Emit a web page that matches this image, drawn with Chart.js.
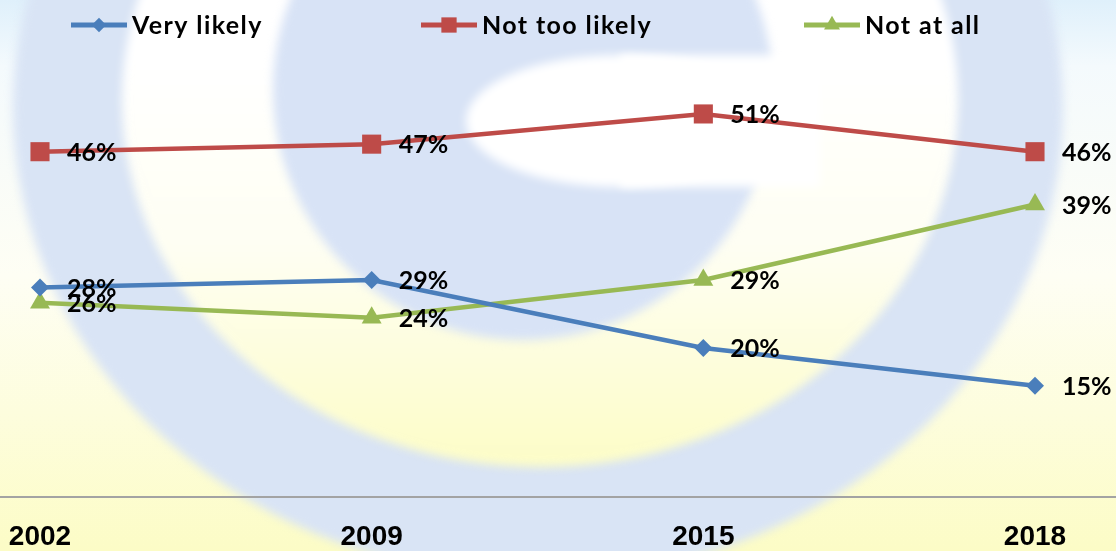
<!DOCTYPE html>
<html>
<head>
<meta charset="utf-8">
<script src="https://cdn.jsdelivr.net/npm/chart.js"></script>
<style>
    body { margin: 0; background: #fff; }
    #wrap { width: 1116px; height: 551px; }
</style>
</head>
<body>
<div id="wrap"><canvas id="trendChart" width="1116" height="551"></canvas></div>
<script>
const years = ['2002', '2009', '2015', '2018'];
const veryLikely = [28, 29, 20, 15];
const notTooLikely = [46, 47, 51, 46];
const notAtAll = [26, 24, 29, 39];
const seriesNames = ['Very likely', 'Not too likely', 'Not at all'];

const FONT = "Lato, 'Liberation Sans', sans-serif";
const legendStarts = [71, 421, 804];

// faint "G" watermark behind the plot
const watermark = {
    id: 'watermark',
    beforeDraw(chart) {
        const ctx = chart.ctx;
        const w = chart.width, h = chart.height;
        ctx.save();
        let g = ctx.createLinearGradient(0, 0, 0, h);
        g.addColorStop(0, '#dff0fb');
        g.addColorStop(0.12, '#f4fafd');
        g.addColorStop(0.5, '#fefef4');
        g.addColorStop(1, '#fcfcc6');
        ctx.fillStyle = g;
        ctx.fillRect(0, 0, w, h);

        ctx.filter = 'blur(5px)';
        // outer ring
        ctx.fillStyle = '#d9e4f5';
        ctx.beginPath();
        ctx.ellipse(538, 108, 525, 470, 0, 0, Math.PI * 2);
        ctx.fill();
        g = ctx.createLinearGradient(0, 60, 0, 480);
        g.addColorStop(0, '#ffffff');
        g.addColorStop(0.45, '#fefef2');
        g.addColorStop(1, '#fcfcc4');
        ctx.fillStyle = g;
        ctx.beginPath();
        ctx.ellipse(540, 100, 418, 367, 0, 0, Math.PI * 2);
        ctx.fill();

        // inner G
        ctx.fillStyle = '#d8e3f6';
        ctx.beginPath();
        ctx.arc(523, 90, 250, 0, Math.PI * 2);
        ctx.fill();
        ctx.fillStyle = '#ffffff';
        ctx.beginPath();
        ctx.ellipse(620, 121, 154, 66, 0, 0, Math.PI * 2);
        ctx.fill();
        ctx.fillRect(620, 55, 200, 132);
        ctx.restore();
    }
};

// full-width baseline under the plot
const baseline = {
    id: 'baseline',
    beforeDatasetsDraw(chart) {
        const ctx = chart.ctx;
        const y = chart.scales.y.getPixelForValue(0) - 2;
        ctx.save();
        ctx.strokeStyle = '#a3a3a3';
        ctx.lineWidth = 2;
        ctx.beginPath();
        ctx.moveTo(0, y);
        ctx.lineTo(chart.width, y);
        ctx.stroke();
        ctx.restore();
    }
};

// value labels to the right of each marker
const valueLabels = {
    id: 'valueLabels',
    afterDatasetsDraw(chart) {
        const ctx = chart.ctx;
        ctx.save();
        ctx.font = 'bold 25px ' + FONT;
        ctx.fillStyle = '#000';
        ctx.textAlign = 'left';
        ctx.textBaseline = 'middle';
        chart.data.datasets.forEach((ds, i) => {
            chart.getDatasetMeta(i).data.forEach((pt, j) => {
                ctx.fillText(ds.data[j] + '%', pt.x + 27, pt.y + 1);
            });
        });
        ctx.restore();
    }
};

// legend row: line with marker, then name
const lineLegend = {
    id: 'lineLegend',
    afterDraw(chart) {
        const ctx = chart.ctx;
        const y = 25;
        ctx.save();
        chart.data.datasets.forEach((ds, i) => {
            const x = legendStarts[i];
            ctx.strokeStyle = ds.borderColor;
            ctx.lineWidth = 5;
            ctx.beginPath();
            ctx.moveTo(x, y);
            ctx.lineTo(x + 56, y);
            ctx.stroke();
            ctx.fillStyle = ds.pointBackgroundColor;
            Chart.helpers.drawPoint(ctx, {
                pointStyle: ds.pointStyle,
                radius: ds.pointRadius * 0.8,
                rotation: 0,
                borderWidth: 0
            }, x + 28, y);
            ctx.fillStyle = '#000';
            ctx.font = 'bold 25px ' + FONT;
            ctx.letterSpacing = '1.4px';
            ctx.textBaseline = 'middle';
            ctx.fillText(ds.label, x + 61, y + 1);
            ctx.letterSpacing = '0px';
        });
        ctx.restore();
    }
};

function makeSeries(label, data, color, style, radius) {
    return {
        label: label,
        data: data,
        borderColor: color,
        backgroundColor: color,
        pointBackgroundColor: color,
        pointBorderColor: color,
        pointBorderWidth: 0,
        pointStyle: style,
        pointRadius: radius,
        pointHoverRadius: radius,
        borderWidth: 4.5,
        tension: 0,
        clip: false
    };
}

new Chart(document.getElementById('trendChart'), {
    type: 'line',
    data: {
        labels: years,
        datasets: [
            makeSeries(seriesNames[0], veryLikely, '#4a7ebb', 'rectRot', 9),
            makeSeries(seriesNames[1], notTooLikely, '#be4b48', 'rect', 13.5),
            makeSeries(seriesNames[2], notAtAll, '#98b954', 'triangle', 11.5)
        ]
    },
    options: {
        responsive: false,
        animation: false,
        layout: { padding: { left: 40, right: 81, top: 46, bottom: 0 } },
        scales: {
            x: {
                offset: false,
                grid: { display: false, drawTicks: false },
                border: { display: false },
                ticks: {
                    padding: 24,
                    color: '#000',
                    font: { family: "'Liberation Sans', Arial, sans-serif", size: 28, weight: 'bold', lineHeight: 1 },
                    maxRotation: 0
                },
                afterFit(scale) {
                    scale.height = 52;
                    scale.paddingLeft = 0;
                    scale.paddingRight = 0;
                }
            },
            y: {
                display: false,
                min: 0,
                max: 60
            }
        },
        plugins: {
            legend: { display: false },
            tooltip: { enabled: false }
        }
    },
    plugins: [watermark, baseline, valueLabels, lineLegend]
});
</script>
</body>
</html>
